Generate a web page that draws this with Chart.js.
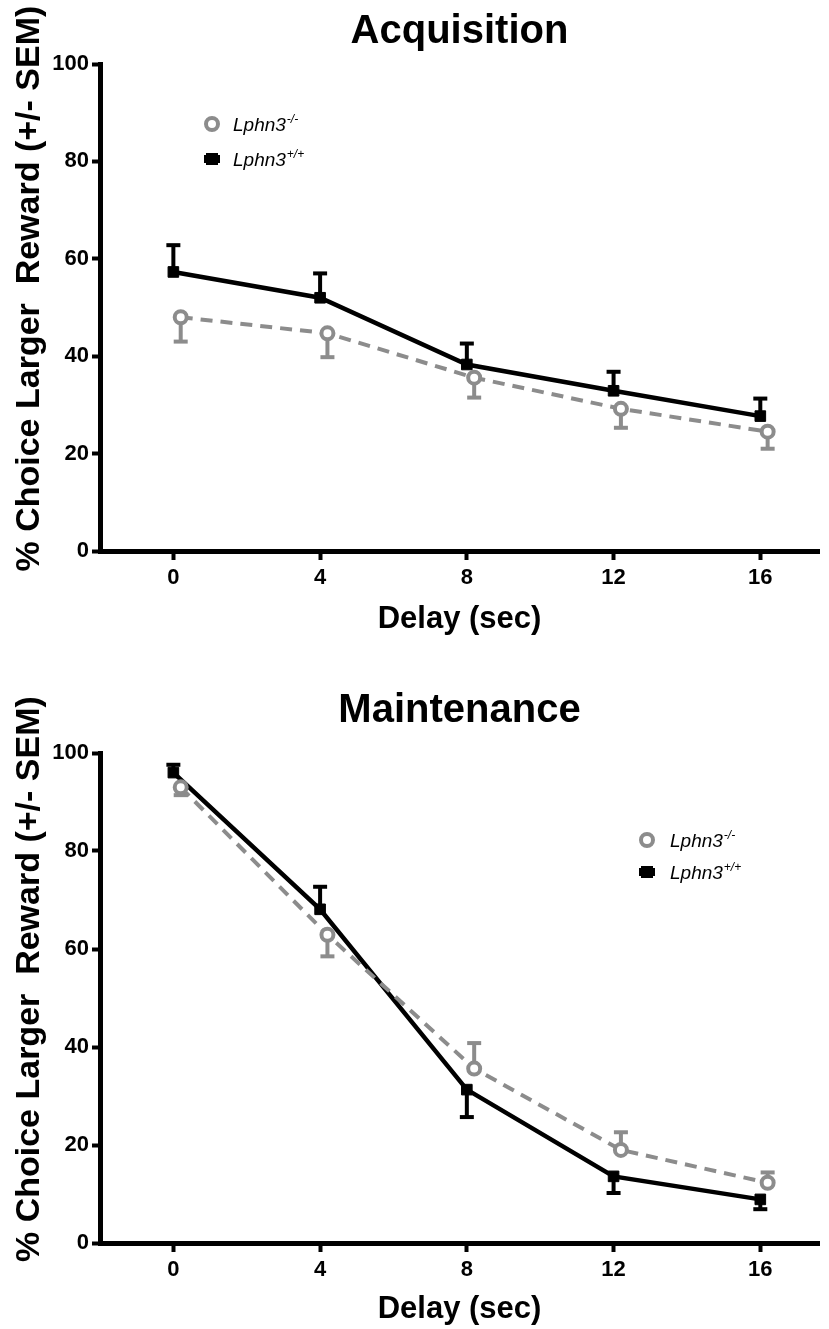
<!DOCTYPE html>
<html><head><meta charset="utf-8">
<script src="https://cdn.jsdelivr.net/npm/chart.js@4.4.1/dist/chart.umd.min.js"></script>
<style>
html,body{margin:0;padding:0;background:#fff;}
#wrap{position:relative;width:829px;height:1329px;overflow:hidden;}
canvas{position:absolute;left:0;display:block;}
</style></head><body>
<div id="wrap">
<canvas id="acq" width="829" height="660" style="top:0px"></canvas>
<canvas id="mai" width="829" height="665" style="top:664px"></canvas>
</div>
<script>
// ---- data ----
const delays = [0, 4, 8, 12, 16];
const koDelays = [0.2, 4.2, 8.2, 12.2, 16.2];
const xTicks = [0, 4, 8, 12, 16];
const yTicks = [0, 20, 40, 60, 80, 100];

const acqWT = [57.3, 52.0, 38.3, 32.9, 27.7];
const acqWTsem = [5.5, 5.0, 4.3, 3.9, 3.6];
const acqWTdir = [1, 1, 1, 1, 1];
const acqKO = [48.0, 44.7, 35.6, 29.2, 24.5];
const acqKOsem = [5.0, 4.9, 4.1, 3.9, 3.5];
const acqKOdir = [-1, -1, -1, -1, -1];

const maiWT = [96.0, 68.1, 31.3, 13.6, 8.9];
const maiWTsem = [1.6, 4.6, 5.6, 3.4, 2.0];
const maiWTdir = [1, 1, -1, -1, -1];
const maiKO = [93.0, 62.9, 35.6, 19.0, 12.3];
const maiKOsem = [1.6, 4.4, 5.2, 3.6, 2.1];
const maiKOdir = [-1, -1, 1, 1, 1];

const legendNames = ['Lphn3', 'Lphn3'];
const legendSups = ['-/-', '+/+'];
const titles = ['Acquisition', 'Maintenance'];
const xTitle = 'Delay (sec)';
const yTitle = '% Choice Larger  Reward (+/- SEM)';

// ---- styling ----
const FAM = '"Liberation Sans", Arial, Helvetica, sans-serif';
const GRAY = '#8c8c8c';
Chart.defaults.font.family = FAM;
Chart.defaults.color = '#000';

const errorBars = {
  id: 'errorBars',
  beforeDatasetsDraw(chart) {
    const {ctx} = chart;
    const x = chart.scales.x, y = chart.scales.y;
    for (let di = chart.data.datasets.length - 1; di >= 0; di--) {
      const ds = chart.data.datasets[di];
      ctx.save();
      ctx.strokeStyle = ds.borderColor;
      ctx.lineWidth = 4;
      ctx.setLineDash([]);
      ctx.lineCap = 'butt';
      ds.data.forEach((pt, i) => {
        const px = x.getPixelForValue(pt.x);
        const py = y.getPixelForValue(pt.y);
        const ey = y.getPixelForValue(pt.y + ds.errDir[i] * ds.sem[i]);
        ctx.beginPath();
        ctx.moveTo(px, py); ctx.lineTo(px, ey);
        ctx.stroke();
        ctx.beginPath();
        ctx.moveTo(px - 7, ey); ctx.lineTo(px + 7, ey);
        ctx.stroke();
      });
      ctx.restore();
    }
  }
};

const customLegend = {
  id: 'customLegend',
  afterDraw(chart, args, opts) {
    const ctx = chart.ctx;
    ctx.save();
    chart.data.datasets.forEach((ds, k) => {
      const cy = opts.y + k * opts.gap;
      const cx = opts.markerX;
      if (ds.pointStyle === 'circle') {
        ctx.beginPath();
        ctx.arc(cx, cy, 6, 0, Math.PI * 2);
        ctx.fillStyle = '#fff'; ctx.fill();
        ctx.lineWidth = 4; ctx.strokeStyle = GRAY; ctx.stroke();
      } else {
        ctx.fillStyle = '#000';
        ctx.fillRect(cx - 8, cy - 4, 16, 8);
        ctx.fillRect(cx - 6, cy - 6, 12, 12);
      }
      ctx.fillStyle = '#000';
      ctx.textBaseline = 'alphabetic';
      ctx.textAlign = 'left';
      ctx.font = 'italic 19px ' + FAM;
      ctx.fillText(legendNames[k], opts.textX, cy + 7);
      const w = ctx.measureText(legendNames[k]).width;
      ctx.font = 'italic 12px ' + FAM;
      ctx.fillText(legendSups[k], opts.textX + w + 1, cy - 1);
    });
    ctx.restore();
  }
};

function makeChart(id, title, wt, wtSem, wtDir, ko, koSem, koDir, p) {
  return new Chart(document.getElementById(id), {
    type: 'line',
    data: {
      datasets: [
        {
          label: legendNames[0] + legendSups[0],
          data: koDelays.map((d, i) => ({x: d, y: ko[i]})),
          sem: koSem, errDir: koDir,
          borderColor: GRAY, borderWidth: 4, borderDash: [12, 8],
          pointStyle: 'circle', pointRadius: 6, pointBorderWidth: 4,
          pointBackgroundColor: '#fff', pointBorderColor: GRAY,
          tension: 0, clip: false
        },
        {
          label: legendNames[1] + legendSups[1],
          data: delays.map((d, i) => ({x: d, y: wt[i]})),
          sem: wtSem, errDir: wtDir,
          borderColor: '#000', borderWidth: 4.5,
          pointStyle: 'rect', pointRadius: 7.5, pointBorderWidth: 1,
          pointBackgroundColor: '#000', pointBorderColor: '#000',
          tension: 0, clip: false
        }
      ]
    },
    options: {
      responsive: false,
      animation: false,
      layout: {padding: {left: 0, right: 9, top: 0, bottom: 0}},
      plugins: {
        legend: {display: false},
        tooltip: {enabled: false},
        title: {
          display: true, text: title, fullSize: false, color: '#000',
          font: {size: 40, weight: 'bold', family: FAM, lineHeight: 1.2},
          padding: {top: p.tTop, bottom: p.tBot}
        },
        customLegend: p.legend
      },
      scales: {
        x: {
          type: 'linear', min: -2, max: 17.6,
          afterBuildTicks: s => { s.ticks = xTicks.map(v => ({value: v})); },
          afterFit: s => { s.height = p.xH; },
          grid: {drawOnChartArea: false, drawTicks: true, tickLength: 9, tickWidth: 4, tickColor: '#000'},
          border: {display: true, color: '#000', width: 5},
          ticks: {color: '#000', font: {size: 22, weight: 'bold', family: FAM}, padding: 5, maxRotation: 0, autoSkip: false},
          title: {display: true, text: xTitle, color: '#000', font: {size: 31, weight: 'bold', family: FAM}, padding: {top: 0, bottom: p.xPb}}
        },
        y: {
          min: 0, max: 100,
          afterBuildTicks: s => { s.ticks = yTicks.map(v => ({value: v})); },
          afterFit: s => { s.width = 100; },
          grid: {drawOnChartArea: false, drawTicks: true, tickLength: 8, tickWidth: 4, tickColor: '#000'},
          border: {display: true, color: '#000', width: 5},
          ticks: {color: '#000', font: {size: 22, weight: 'bold', family: FAM}, padding: 3},
          title: {display: true, text: '    ' + yTitle, color: '#000', font: {size: 34, weight: 'bold', family: FAM}, padding: {top: 9, bottom: 0}}
        }
      }
    },
    plugins: [errorBars, customLegend]
  });
}

makeChart('acq', titles[0], acqWT, acqWTsem, acqWTdir, acqKO, acqKOsem, acqKOdir,
  {tTop: 8, tBot: 8, xH: 109, xPb: 22, legend: {markerX: 212, textX: 233, y: 124, gap: 35}});
makeChart('mai', titles[1], maiWT, maiWTsem, maiWTdir, maiKO, maiKOsem, maiKOdir,
  {tTop: 23, tBot: 18, xH: 86, xPb: 1, legend: {markerX: 647, textX: 670, y: 176, gap: 32}});
</script>
</body></html>
